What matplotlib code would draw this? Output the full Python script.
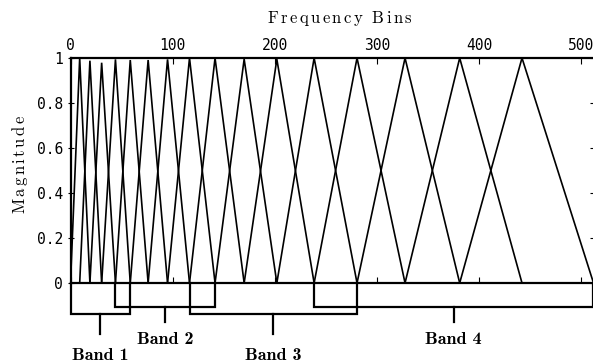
import matplotlib
matplotlib.use("Agg")
import matplotlib.pyplot as plt

plt.rcParams['mathtext.fontset'] = 'cm'

# Filter edges (bins): start, peaks, end
edges = [0, 9, 19, 30.5, 44, 58.5, 76, 95, 116.5, 141.5, 170, 202,
         238.5, 280.5, 327.5, 381, 442, 512]
heights = [1.0, 0.988, 0.979, 0.994, 0.991, 0.991, 0.994, 1.0, 1.0, 0.995,
           0.995, 1.0, 1.0, 1.0, 1.0, 1.0]

band_labels = ["Band 1", "Band 2", "Band 3", "Band 4"]
band_start = [0, 44, 116.5, 238.5]
band_end = [58.5, 141.5, 280.5, 512]

xticks = [0, 100, 200, 300, 400, 500]
yticks = [0, 0.2, 0.4, 0.6, 0.8, 1]
ytick_labels = ["0", "0.2", "0.4", "0.6", "0.8", "1"]

W, H = 593, 363
fig = plt.figure(figsize=(W / 100, H / 100), dpi=100)
ax = fig.add_axes([70.5 / W, 1 - 283 / H, (593.5 - 70.5) / W, (283 - 58) / H])

for i in range(1, len(edges) - 1):
    ax.plot([edges[i - 1], edges[i], edges[i + 1]], [0, heights[i - 1], 0],
            color='black', lw=1.2, solid_joinstyle='miter')

ax.set_xlim(0, 512)
ax.set_ylim(0, 1)

for s in ['top', 'left', 'bottom']:
    ax.spines[s].set_linewidth(1.6)
ax.spines['right'].set_visible(False)

ax.set_xticks(xticks)
ax.set_yticks(yticks)
ax.set_yticklabels(ytick_labels)
ax.tick_params(axis='x', which='both', direction='in', top=True, bottom=True,
               labeltop=True, labelbottom=False, length=4, width=0.8, pad=3.5)
ax.tick_params(axis='y', which='both', direction='inout', left=True, right=True,
               labelleft=True, labelright=False, length=5, width=0.8, pad=3)
for lab in ax.get_xticklabels() + ax.get_yticklabels():
    lab.set_fontfamily('DejaVu Sans Mono')
    lab.set_fontsize(10.5)

# Band brackets
level_bracket = [-0.138, -0.107]
level_tick = [-0.227, -0.173]
level_label = [-0.322, -0.250]
for k, (lab, s, e) in enumerate(zip(band_labels, band_start, band_end)):
    j = k % 2
    yb = level_bracket[j]
    ax.plot([s, s, e, e], [0, yb, yb, 0], color='black', lw=1.6,
            clip_on=False, solid_joinstyle='miter')
    m = (s + e) / 2
    ax.plot([m, m], [yb, level_tick[j]], color='black', lw=1.6, clip_on=False)
    ax.text(m, level_label[j], lab, family=['cmb10', 'DejaVu Serif'],
            ha='center', va='center', fontsize=13, clip_on=False)

def spaced(txt):
    parts = []
    for ch in txt:
        if ch == ' ':
            parts.append(r'\ ')
        else:
            parts.append(r'\mathrm{' + ch + '}')
    return '$' + r'\,'.join(parts) + '$'

fig.text(340 / W, 1 - 19 / H, spaced("Frequency Bins"), ha='center', va='center',
         fontsize=12)
fig.text(20 / W, 1 - 164 / H, spaced("Magnitude"), ha='center', va='center',
         rotation=90, fontsize=12)

fig.savefig("out.png", dpi=100)
